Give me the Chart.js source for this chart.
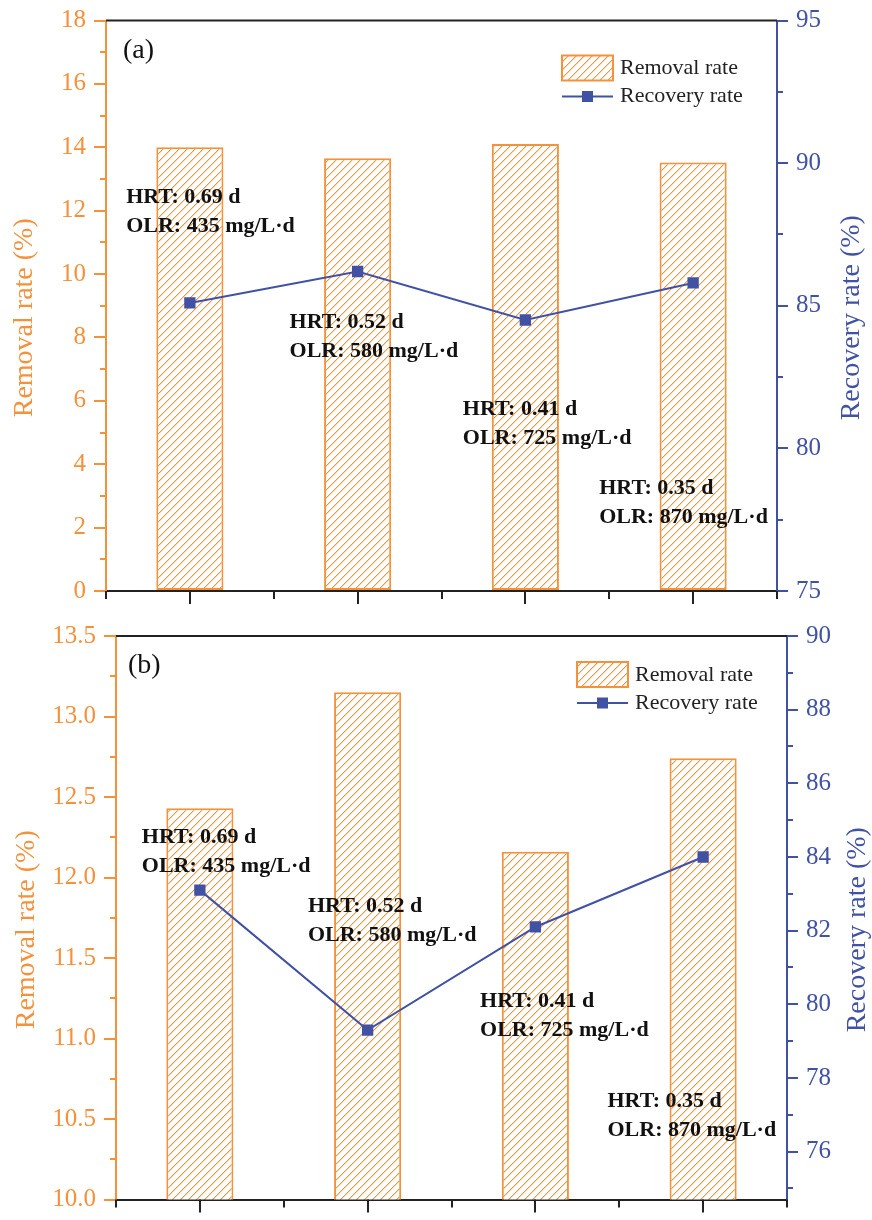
<!DOCTYPE html>
<html>
<head>
<meta charset="utf-8">
<script src="https://cdn.jsdelivr.net/npm/chart.js@4.4.0/dist/chart.umd.min.js"></script>
<style>
    body { margin: 0; background: #fff; }
    #wrap { position: relative; width: 872px; height: 1220px; overflow: hidden; }
    canvas { position: absolute; left: 0; }
    #chartA { top: 0; }
    #chartB { top: 612px; }
</style>
</head>
<body>
<div id="wrap">
    <canvas id="chartA" width="872" height="612"></canvas>
    <canvas id="chartB" width="872" height="608"></canvas>
</div>
<script>
// HRT conditions on the x axis
const categories = ['0.69 d', '0.52 d', '0.41 d', '0.35 d'];
const hrtText = ['HRT: 0.69 d', 'HRT: 0.52 d', 'HRT: 0.41 d', 'HRT: 0.35 d'];
const olrText = ['OLR: 435 mg/L·d', 'OLR: 580 mg/L·d', 'OLR: 725 mg/L·d', 'OLR: 870 mg/L·d'];

// panel (a)
const removalA = [14.0, 13.65, 14.1, 13.52];
const recoveryA = [85.1, 86.2, 84.5, 85.8];
// panel (b)
const removalB = [12.43, 13.15, 12.16, 12.74];
const recoveryB = [83.1, 79.3, 82.1, 84.0];

const orange = '#F5913A';
const blue = '#4152A4';
const ink = '#111';
const serif = "'Liberation Serif', 'Times New Roman', serif";

// "/" hatch, drawn pixel by pixel so it stays crisp and orange
function hatch(ctx) {
    var c = document.createElement('canvas');
    c.width = 8; c.height = 8;
    var g = c.getContext('2d');
    g.fillStyle = '#fff';
    g.fillRect(0, 0, 8, 8);
    g.fillStyle = orange;
    for (var i = 0; i < 8; i++) {
        g.fillRect(i, 7 - i, 1, 1);
    }
    g.globalAlpha = 0.35;
    for (var k = 0; k < 8; k++) {
        g.fillRect((k + 1) % 8, 7 - k, 1, 1);
    }
    return ctx.createPattern(c, 'repeat');
}

function minorTicks(ctx, scale, step, side, color) {
    var x0 = side === 'left' ? scale.right : scale.left;
    var dir = side === 'left' ? -1 : 1;
    var majors = scale.ticks.map(function (t) { return t.value; });
    ctx.strokeStyle = color;
    ctx.lineWidth = 2;
    for (var k = Math.ceil(scale.min / step - 1e-9); k * step <= scale.max + 1e-9; k++) {
        var v = k * step;
        if (majors.some(function (m) { return Math.abs(m - v) < 1e-6; })) continue;
        var y = Math.round(scale.getPixelForValue(v));
        ctx.beginPath();
        ctx.moveTo(x0, y);
        ctx.lineTo(x0 + dir * 6, y);
        ctx.stroke();
    }
}

const decor = {
    id: 'decor',
    afterDraw: function (chart, args, o) {
        var ctx = chart.ctx;
        var a = chart.chartArea;
        var xs = chart.scales.x, ys = chart.scales.y, ys1 = chart.scales.y1;
        ctx.save();

        // frame top
        ctx.strokeStyle = '#222';
        ctx.lineWidth = 2;
        ctx.beginPath();
        ctx.moveTo(a.left, a.top);
        ctx.lineTo(a.right, a.top);
        ctx.stroke();

        // x ticks: long at categories, short between
        for (var i = 0; i < categories.length; i++) {
            var px = Math.round(xs.getPixelForValue(i));
            ctx.beginPath();
            ctx.moveTo(px, a.bottom);
            ctx.lineTo(px, a.bottom + 13);
            ctx.stroke();
        }
        for (var j = -0.5; j <= categories.length - 0.5; j++) {
            var bx = Math.round(xs.getPixelForValue(j));
            ctx.beginPath();
            ctx.moveTo(bx, a.bottom);
            ctx.lineTo(bx, a.bottom + 8);
            ctx.stroke();
        }

        minorTicks(ctx, ys, o.minorY, 'left', orange);
        minorTicks(ctx, ys1, o.minorY1, 'right', blue);

        // axis titles
        var cy = (a.top + a.bottom) / 2 + 12;
        ctx.font = '28px ' + serif;
        ctx.textAlign = 'center';
        ctx.textBaseline = 'middle';
        ctx.fillStyle = orange;
        ctx.save();
        ctx.translate(o.titleL, cy);
        ctx.rotate(-Math.PI / 2);
        ctx.fillText('Removal rate (%)', 0, 0);
        ctx.restore();
        ctx.fillStyle = blue;
        ctx.save();
        ctx.translate(o.titleR, cy);
        ctx.rotate(-Math.PI / 2);
        ctx.fillText('Recovery rate (%)', 0, 0);
        ctx.restore();

        // panel tag
        ctx.textAlign = 'left';
        ctx.fillStyle = ink;
        ctx.font = '28px ' + serif;
        ctx.fillText(o.tag, a.left + o.tagDx, a.top + 30);

        // condition notes
        ctx.font = 'bold 22px ' + serif;
        for (var n = 0; n < hrtText.length; n++) {
            var tx = xs.getPixelForValue(o.noteX[n]);
            var ty = ys.getPixelForValue(o.noteY[n]);
            ctx.fillText(hrtText[n], tx, ty);
            ctx.fillText(olrText[n], tx, ty + 29);
        }

        // legend
        var lx = a.right - o.legDx, ly = a.top + o.legDy;
        ctx.fillStyle = hatch(ctx);
        ctx.fillRect(lx, ly, 51, 25);
        ctx.strokeStyle = orange;
        ctx.lineWidth = 2;
        ctx.strokeRect(lx, ly, 51, 25);
        var ry = ly + 41;
        ctx.strokeStyle = blue;
        ctx.beginPath();
        ctx.moveTo(lx, ry);
        ctx.lineTo(lx + 51, ry);
        ctx.stroke();
        ctx.fillStyle = blue;
        ctx.fillRect(lx + 20, ry - 5.5, 11, 11);
        ctx.fillStyle = '#222';
        ctx.font = '22px ' + serif;
        ctx.fillText('Removal rate', lx + 58, ly + 13);
        ctx.fillText('Recovery rate', lx + 58, ry);

        ctx.restore();
    }
};

function makeChart(id, removal, recovery, cfg) {
    var ctx = document.getElementById(id).getContext('2d');
    return new Chart(ctx, {
        data: {
            labels: categories,
            datasets: [{
                type: 'line',
                label: 'Recovery rate',
                data: recovery,
                yAxisID: 'y1',
                borderColor: blue,
                backgroundColor: blue,
                borderWidth: 2,
                pointStyle: 'rect',
                pointRadius: 8,
                pointBorderWidth: 0,
                pointBackgroundColor: blue,
                tension: 0,
                order: 0
            }, {
                type: 'bar',
                label: 'Removal rate',
                data: removal,
                yAxisID: 'y',
                backgroundColor: hatch(ctx),
                borderColor: orange,
                borderWidth: 2,
                borderSkipped: false,
                barPercentage: 0.4,
                categoryPercentage: 1,
                order: 1
            }]
        },
        options: {
            responsive: false,
            animation: false,
            layout: { padding: { top: cfg.padTop, left: 0, right: 0, bottom: 0 } },
            plugins: {
                legend: { display: false },
                tooltip: { enabled: false },
                decor: cfg.decor
            },
            scales: {
                x: {
                    type: 'category',
                    offset: true,
                    grid: { display: false },
                    ticks: { display: false },
                    border: { display: true, color: '#222', width: 2 },
                    afterFit: function (s) { s.height = cfg.xHeight; }
                },
                y: {
                    position: 'left',
                    min: cfg.yMin,
                    max: cfg.yMax,
                    ticks: {
                        stepSize: cfg.yStep,
                        color: orange,
                        padding: 8,
                        font: { family: serif, size: 25, lineHeight: 1 },
                        callback: cfg.yFmt
                    },
                    grid: { drawOnChartArea: false, drawTicks: true, tickLength: 12, color: orange, lineWidth: 2 },
                    border: { display: true, color: orange, width: 2 },
                    afterFit: function (s) { s.width = cfg.leftW; }
                },
                y1: {
                    position: 'right',
                    min: cfg.y1Min,
                    max: cfg.y1Max,
                    ticks: {
                        stepSize: cfg.y1Step,
                        color: blue,
                        padding: 8,
                        font: { family: serif, size: 25, lineHeight: 1 }
                    },
                    afterBuildTicks: function (s) {
                        s.ticks = s.ticks.filter(function (t) {
                            var r = t.value / cfg.y1Step;
                            return Math.abs(r - Math.round(r)) < 1e-6;
                        });
                    },
                    grid: { drawOnChartArea: false, drawTicks: true, tickLength: 11, color: blue, lineWidth: 2 },
                    border: { display: true, color: blue, width: 2 },
                    afterFit: function (s) { s.width = cfg.rightW; }
                }
            }
        },
        plugins: [decor]
    });
}

makeChart('chartA', removalA, recoveryA, {
    padTop: 20, xHeight: 21, leftW: 106, rightW: 95,
    yMin: 0, yMax: 18, yStep: 2,
    yFmt: function (v) { return v; },
    y1Min: 75, y1Max: 95, y1Step: 5,
    decor: {
        minorY: 1, minorY1: 2.5,
        titleL: 25, titleR: 852,
        tag: '(a)', tagDx: 17,
        legDx: 215, legDy: 35,
        noteX: [-0.38, 0.594, 1.627, 2.44],
        noteY: [12.42, 8.48, 5.74, 3.25]
    }
});

makeChart('chartB', removalB, recoveryB, {
    padTop: 24, xHeight: 12, leftW: 116, rightW: 85,
    yMin: 10, yMax: 13.5, yStep: 0.5,
    yFmt: function (v) { return v.toFixed(1); },
    y1Min: 74.7, y1Max: 90, y1Step: 2,
    decor: {
        minorY: 0.25, minorY1: 1,
        titleL: 27, titleR: 858,
        tag: '(b)', tagDx: 12,
        legDx: 210, legDy: 26,
        noteX: [-0.346, 0.644, 1.67, 2.43],
        noteY: [12.25, 11.82, 11.23, 10.61]
    }
});
</script>
</body>
</html>
